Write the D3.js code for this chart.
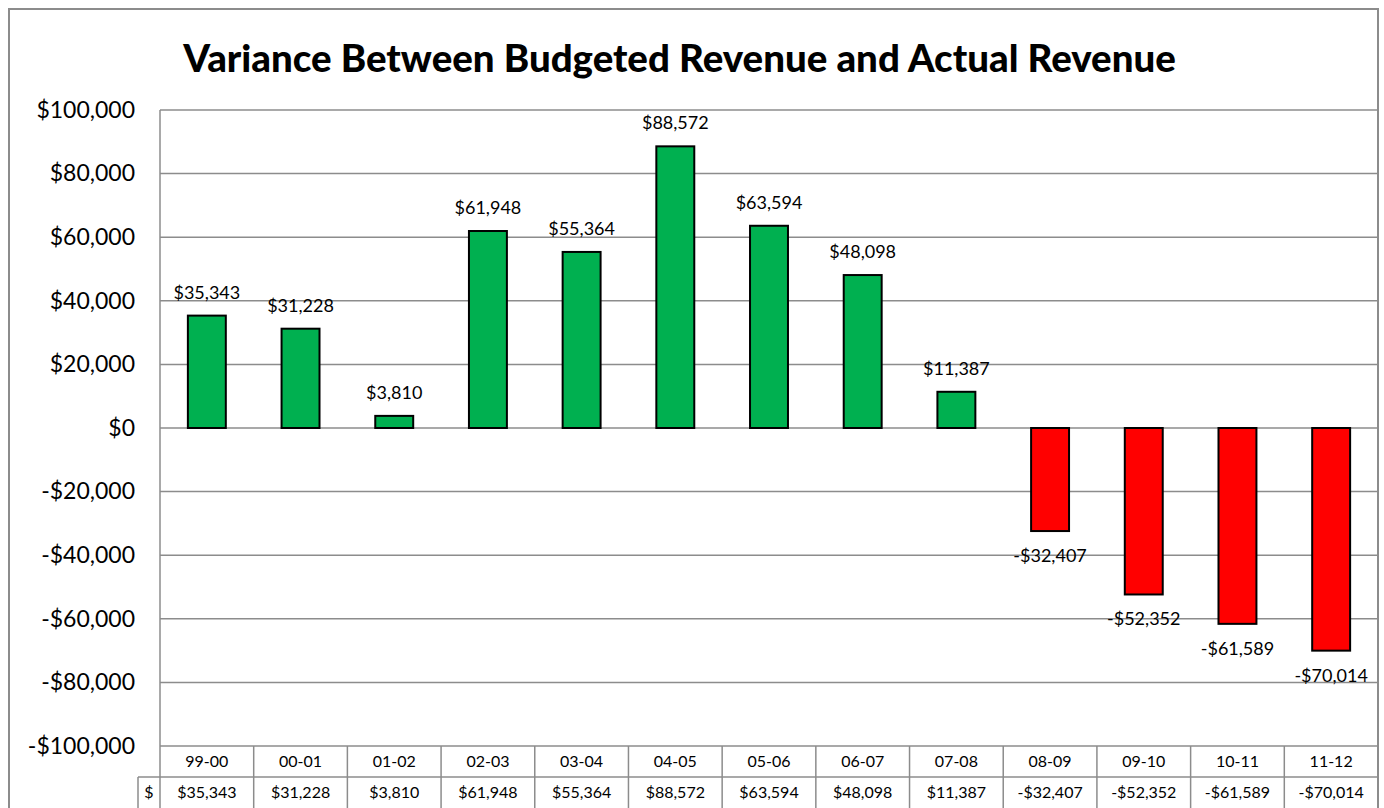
<!DOCTYPE html>
<html><head><meta charset="utf-8">
<script src="https://cdn.jsdelivr.net/npm/d3@7"></script>
<style>body{margin:0;background:#fff;}svg{display:block;font-family:Lato,"Open Sans",sans-serif;}</style>
</head><body>
<svg id="chart" width="1384" height="808"></svg>
<script>
const title = "Variance Between Budgeted Revenue and Actual Revenue";
const categories = ["99-00","00-01","01-02","02-03","03-04","04-05","05-06","06-07","07-08","08-09","09-10","10-11","11-12"];
const values = [35343,31228,3810,61948,55364,88572,63594,48098,11387,-32407,-52352,-61589,-70014];
const yTicks = [100000,80000,60000,40000,20000,0,-20000,-40000,-60000,-80000,-100000];
const tableRowLabel = "$";

const svg = d3.select("#chart");
const W = 1384, H = 808;
const L = 160, R = 1378, T = 110, B = 746;
const rowH = 31;
const grey = "#8c8c8c";
const fmt = d3.format(",");
const money = v => v < 0 ? "-$" + fmt(-v) : "$" + fmt(v);

// outer border
svg.append("rect").attr("x",9).attr("y",9).attr("width",R-9).attr("height",H+10)
  .attr("fill","#fff").attr("stroke",grey).attr("stroke-width",2);

// title
const t = svg.append("text").attr("x",(183+1176)/2).attr("y",72).attr("text-anchor","middle")
  .attr("font-weight","900").attr("font-size",32).attr("fill","#000").text(title);
const tw = t.node().getComputedTextLength();
t.attr("font-size", 32*993/tw);

const y = d3.scaleLinear().domain([-100000,100000]).range([B,T]);
const x = d3.scaleBand().domain(categories).range([L,R]).paddingInner(0.595).paddingOuter(0.595/2);

// gridlines
svg.append("g").selectAll("line").data(yTicks).join("line")
  .attr("x1",L).attr("x2",R).attr("y1",d=>y(d)).attr("y2",d=>y(d))
  .attr("stroke",grey).attr("stroke-width",1.5);

// y axis labels
const yAxis = d3.axisLeft(y).tickValues(yTicks).tickFormat(money).tickSize(0).tickPadding(0);
const ga = svg.append("g").attr("transform",`translate(${135},0)`).call(yAxis);
ga.select(".domain").remove();
ga.selectAll("text").attr("font-size",23).attr("font-family","Lato,'Open Sans',sans-serif").attr("fill","#000");

// plot left border and right border
svg.append("line").attr("x1",L).attr("x2",L).attr("y1",T).attr("y2",H).attr("stroke",grey).attr("stroke-width",1.5);
svg.append("line").attr("x1",R).attr("x2",R).attr("y1",T).attr("y2",H).attr("stroke",grey).attr("stroke-width",2);

// bars
svg.append("g").selectAll("rect").data(values).join("rect")
  .attr("x",(d,i)=>x(categories[i]))
  .attr("width",x.bandwidth())
  .attr("y",d=>y(Math.max(0,d)))
  .attr("height",d=>Math.abs(y(d)-y(0)))
  .attr("fill",d=>d>=0?"#00B050":"#FF0000")
  .attr("stroke","#000").attr("stroke-width",2);

// data labels
svg.append("g").selectAll("text").data(values).join("text")
  .attr("x",(d,i)=>x(categories[i])+x.bandwidth()/2)
  .attr("y",d=>d>=0 ? y(d)-17 : y(d)+31)
  .attr("text-anchor","middle").attr("font-size",18).attr("fill","#000")
  .text(d=>money(d));

// data table
const step = x.step();
const colX = (i)=>L + i*step;
const tg = svg.append("g");
tg.append("line").attr("x1",138).attr("x2",R).attr("y1",B+rowH).attr("y2",B+rowH).attr("stroke",grey).attr("stroke-width",1.5);
tg.selectAll("line.v").data(d3.range(1,categories.length)).join("line").attr("class","v")
  .attr("x1",i=>colX(i)).attr("x2",i=>colX(i)).attr("y1",B).attr("y2",H)
  .attr("stroke",grey).attr("stroke-width",1.5);
tg.append("line").attr("x1",138).attr("x2",138).attr("y1",B+rowH).attr("y2",H).attr("stroke",grey).attr("stroke-width",1.5);
tg.selectAll("text.c").data(categories).join("text").attr("class","c")
  .attr("x",(d,i)=>colX(i)+step/2).attr("y",B+21).attr("text-anchor","middle")
  .attr("font-size",16).text(d=>d);
tg.selectAll("text.v").data(values).join("text").attr("class","v")
  .attr("x",(d,i)=>colX(i)+step/2).attr("y",B+rowH+21).attr("text-anchor","middle")
  .attr("font-size",16).text(d=>money(d));
tg.append("text").attr("x",149).attr("y",B+rowH+21).attr("text-anchor","middle").attr("font-size",16).text(tableRowLabel);
</script>
</body></html>
